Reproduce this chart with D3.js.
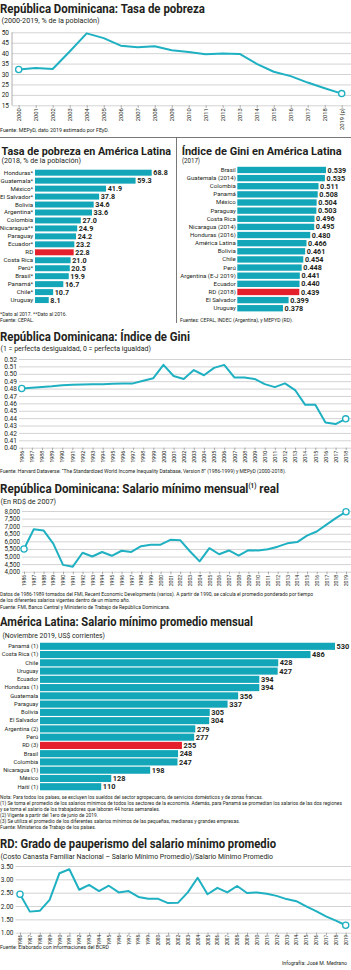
<!DOCTYPE html>
<html><head><meta charset="utf-8">
<script src="https://cdn.jsdelivr.net/npm/d3@7"></script>
<style>
body{margin:0;background:#fff;}
svg{display:block;}
text{font-family:Roboto,"Noto Sans",sans-serif;}
</style></head><body>
<svg id="chart" width="351" height="970"></svg>
<script>
// ---------- DATA ----------
const povertyYears = ["2000","2001","2002","2003","2004","2005","2006","2007","2008","2009","2010","2011","2012","2013","2014","2015","2016","2017","2018","2019 (p)"];
const povertyRates = [32.2,32.9,32.4,40.8,49.5,47.2,43.6,42.8,43.3,41.4,40.6,39.5,39.8,39.6,34.9,31.1,29.0,25.9,23.2,20.6];
const povertyTicks = [15,20,25,30,35,40,45,50];

const laPovertyCountries = ["Honduras*","Guatemala*","México*","El Salvador*","Bolivia","Argentina*","Colombia","Nicaragua**","Paraguay","Ecuador*","RD","Costa Rica","Perú*","Brasil*","Panamá*","Chile*","Uruguay"];
const laPovertyValues = [68.8,59.3,41.9,37.8,34.6,33.6,27.0,24.9,24.2,23.2,22.8,21.0,20.5,19.9,16.7,10.7,8.1];

const laGiniCountries = ["Brasil","Guatemala (2014)","Colombia","Panamá","México","Paraguay","Costa Rica","Nicaragua (2014)","Honduras (2016)","América Latina","Bolivia","Chile","Perú","Argentina (E-J 2019)","Ecuador","RD (2018)","El Salvador","Uruguay"];
const laGiniValues = [0.539,0.535,0.511,0.508,0.504,0.503,0.496,0.495,0.480,0.466,0.461,0.454,0.448,0.441,0.440,0.439,0.399,0.378];

const giniYears = ["1986","1987","1988","1989","1990","1991","1992","1993","1994","1995","1996","1997","1998","1999","2000","2001","2002","2003","2004","2005","2006","2007","2008","2009","2010","2011","2012","2013","2014","2015","2016","2017","2018"];
const giniValues = [0.480,0.481,0.482,0.483,0.4845,0.485,0.4855,0.486,0.486,0.4865,0.4868,0.487,0.4905,0.494,0.512,0.497,0.493,0.505,0.498,0.508,0.512,0.495,0.495,0.493,0.486,0.482,0.487,0.478,0.458,0.458,0.434,0.432,0.439];
const giniTicks = [0.40,0.41,0.42,0.43,0.44,0.45,0.46,0.47,0.48,0.49,0.50,0.51,0.52];

const wageYears = ["1986","1987","1988","1989","1990","1991","1992","1993","1994","1995","1996","1997","1998","1999","2000","2001","2002","2003","2004","2005","2006","2007","2008","2009","2010","2011","2012","2013","2014","2015","2016","2017","2018","2019"];
const wageValues = [5500,6800,6720,5850,4450,4330,5250,5000,5300,5050,5380,5300,5680,5770,5780,6100,6080,5350,4680,5550,5150,5400,5060,5420,5400,5480,5650,5870,5950,6380,6650,7100,7550,7950];
const wageTicks = [4000,4500,5000,5500,6000,6500,7000,7500,8000];

const laWageCountries = ["Panamá (1)","Costa Rica (1)","Chile","Uruguay","Ecuador","Honduras (1)","Guatemala","Paraguay","Bolivia","El Salvador","Argentina (2)","Perú","RD (3)","Brasil","Colombia","Nicaragua (1)","México","Haití (1)"];
const laWageValues = [530,486,428,427,394,394,356,337,305,304,279,277,255,248,247,198,128,110];

const pauperYears = ["1986","1987","1988","1989","1990","1991","1992","1993","1994","1995","1996","1997","1998","1999","2000","2001","2002","2003","2004","2005","2006","2007","2008","2009","2010","2011","2012","2013","2014","2015","2016","2017","2018","2019"];
const pauperValues = [2.44,1.79,1.82,2.23,3.23,3.38,2.61,2.79,2.56,2.76,2.51,2.56,2.34,2.27,2.27,2.11,2.12,2.51,3.06,2.44,2.68,2.51,2.75,2.49,2.51,2.46,2.38,2.26,2.18,1.99,1.81,1.61,1.45,1.28];
const pauperTicks = [1.00,1.50,2.00,2.50,3.00,3.50];

// ---------- DRAWING ----------
const W = 351;
const LINE = "#1fb0c2", BAR = "#12a6b8", RED = "#e4202c", GRID = "#d3d3d3", INK = "#231f20";
const svg = d3.select("#chart");

function label(x, y, s, o = {}) {
  const t = svg.append("text").attr("x", x).attr("y", y).text(s)
    .attr("font-size", o.size || 5)
    .attr("font-weight", o.weight || 400)
    .attr("text-anchor", o.anchor || "start")
    .attr("fill", o.fill || INK);
  if (o.width) t.attr("textLength", o.width).attr("lengthAdjust", "spacingAndGlyphs");
  return t;
}

function lineChart(c) {
  const g = svg.append("g");
  const x = d3.scalePoint().domain(c.cats).range(c.xr);
  const y = d3.scaleLinear().domain(c.dom).range(c.yr);
  const ga = g.append("g").attr("transform", `translate(${c.gx},0)`)
    .call(d3.axisLeft(y).tickValues(c.ticks).tickFormat(c.fmt).tickSize(-(W - c.gx)).tickPadding(c.pad));
  ga.select(".domain").remove();
  ga.selectAll("line").attr("stroke", GRID).attr("stroke-width", 1);
  ga.selectAll("text").attr("font-size", c.yfs || 6.5).attr("fill", INK);
  if (c.vline) g.append("line").attr("x1", c.gx).attr("x2", c.gx).attr("y1", c.yr[1]).attr("y2", c.yr[0]).attr("stroke", "#9a9a9a").attr("stroke-width", 0.8);
  const gb = g.append("g").attr("transform", `translate(0,${c.yr[0]})`)
    .call(d3.axisBottom(x).tickSize(2.5).tickPadding(1));
  gb.select(".domain").remove();
  gb.selectAll("line").attr("stroke", "#8a8a8a").attr("stroke-width", 0.7);
  gb.selectAll("text").attr("transform", "rotate(-90)").attr("text-anchor", "end")
    .attr("x", -(c.xoff || 3)).attr("y", 0).attr("dy", "0.33em").attr("font-size", c.xfs || 5.6).attr("fill", INK);
  const line = d3.line().x((d, i) => x(c.cats[i])).y(d => y(d));
  g.append("path").datum(c.vals).attr("d", line).attr("fill", "none")
    .attr("stroke", LINE).attr("stroke-width", 2).attr("stroke-linejoin", "round");
  const ends = [0, c.vals.length - 1];
  g.selectAll("circle").data(ends).join("circle")
    .attr("cx", i => x(c.cats[i])).attr("cy", i => y(c.vals[i])).attr("r", 3.1)
    .attr("fill", "#fff").attr("stroke", LINE).attr("stroke-width", 1.3);
}

function barChart(c) {
  const g = svg.append("g");
  const y = d3.scaleBand().domain(c.cats).range(c.yr).paddingInner(c.p).paddingOuter(c.p / 2);
  const x = d3.scaleLinear().domain(c.dom).range(c.xr);
  const x0 = x(c.dom[0]);
  g.selectAll("rect").data(c.vals).join("rect")
    .attr("x", x0).attr("y", (d, i) => y(c.cats[i]))
    .attr("width", d => x(d) - x0).attr("height", y.bandwidth())
    .attr("fill", (d, i) => c.cats[i] === c.hl ? RED : BAR);
  const ga = g.append("g").attr("transform", `translate(${x0},0)`)
    .call(d3.axisLeft(y).tickSize(0).tickPadding(c.pad));
  ga.select(".domain").remove();
  ga.selectAll("text").attr("font-size", c.fs).attr("fill", INK);
  g.selectAll("text.v").data(c.vals).join("text").attr("class", "v")
    .attr("x", d => x(d) + 1.6).attr("y", (d, i) => y(c.cats[i]) + y.bandwidth() / 2)
    .attr("dy", "0.36em").attr("font-size", c.vfs || 7.2).attr("font-weight", 700).attr("fill", INK)
    .text(d => c.fmt(d));
}

// Section 1: Tasa de pobreza RD
label(0, 12.7, "República Dominicana: Tasa de pobreza", {size: 12, weight: 700, width: 205});
label(1.5, 22.5, "(2000-2019, % de la población)", {size: 7, width: 98});
lineChart({cats: povertyYears, vals: povertyRates, xr: [18.7, 341.7], yr: [105.3, 32.3], dom: [15, 50],
  ticks: povertyTicks, fmt: d3.format("d"), gx: 12, pad: 3, vline: true, xfs: 5.8});
label(0, 132, "Fuente: MEPyD, dato 2019 estimado por FEyD.", {size: 5.2, width: 109});

// separators
svg.append("line").attr("x1", 0).attr("x2", W).attr("y1", 137.5).attr("y2", 137.5).attr("stroke", "#555").attr("stroke-width", 0.8);
svg.append("line").attr("x1", 176.5).attr("x2", 176.5).attr("y1", 137.5).attr("y2", 323).attr("stroke", "#555").attr("stroke-width", 0.8);

// Section 2a: pobreza AL
label(1.5, 154.5, "Tasa de pobreza en América Latina", {size: 11.5, weight: 700, width: 169.5});
label(1.5, 163, "(2018, % de la población)", {size: 6.6, width: 79.5});
barChart({cats: laPovertyCountries, vals: laPovertyValues, yr: [168.72, 304.04], p: 0.25,
  dom: [0, 68.8], xr: [35, 151.7], hl: "RD", pad: 1.8, fs: 6.2, fmt: d3.format(".1f")});
label(0, 316, "*Dato al 2017. **Dato al 2016.", {size: 5, width: 67});
label(0, 322, "Fuente: CEPAL.", {size: 5, width: 34});

// Section 2b: Gini AL
label(181.7, 155, "Índice de Gini en América Latina", {size: 11.5, weight: 700, width: 160});
label(182, 163, "(2017)", {size: 6.6, width: 18});
barChart({cats: laGiniCountries, vals: laGiniValues, yr: [165.9, 312.3], p: 0.22,
  dom: [0.207, 0.539], xr: [237.3, 326], hl: "RD (2018)", pad: 1.5, fs: 6.1, fmt: d3.format(".3f")});
label(180, 322, "Fuentes: CEPAL, INDEC (Argentina), y MEPYD (RD).", {size: 5, width: 113});

// Section 3: Gini RD
label(0, 340.7, "República Dominicana: Índice de Gini", {size: 12, weight: 700, width: 190});
label(0.5, 350.7, "(1 = perfecta desigualdad, 0 = perfecta igualdad)", {size: 7, width: 150.5});
lineChart({cats: giniYears, vals: giniValues, xr: [21.7, 345.7], yr: [447.7, 359], dom: [0.40, 0.52],
  ticks: giniTicks, fmt: d3.format(".2f"), gx: 19, pad: 2, yfs: 6.6, xfs: 5.4});
label(0, 472.5, "Fuente: Harvard Dataverse: “The Standardized World Income Inequality Database, Version 8” (1986-1999) y MEPyD (2000-2018).", {size: 5, width: 286});

// Section 4: Salario mínimo real (title with superscript as one text)
const t5 = label(0, 492.7, "", {size: 12, weight: 700, width: 279});
t5.append("tspan").text("República Dominicana: Salario mínimo mensual");
t5.append("tspan").attr("font-size", 6.5).attr("dy", -4.5).text("(1)");
t5.append("tspan").attr("dy", 4.5).text(" real");
label(0.5, 504, "(En RD$ de 2007)", {size: 7, width: 55.5});
lineChart({cats: wageYears, vals: wageValues, xr: [24, 346], yr: [571.7, 511], dom: [4000, 8000],
  ticks: wageTicks, fmt: d3.format(",d"), gx: 22, pad: 2, yfs: 6.3, xfs: 5.2});
label(0, 596, "Datos de 1986-1989 tomados del FMI, Recent Economic Developments (varios). A partir de 1990, se calcula el promedio ponderado por tiempo", {size: 5, width: 313});
label(0, 602.3, "de los diferentes salarios vigentes dentro de un mismo año.", {size: 5, width: 130});
label(0, 608.6, "Fuente: FMI, Banco Central y Ministerio de Trabajo de República Dominicana.", {size: 5, width: 170});

// Section 5: Salario mínimo AL
label(0, 626, "América Latina: Salario mínimo promedio mensual", {size: 12, weight: 700, width: 253});
label(2.5, 637.7, "(Noviembre 2019, US$ corrientes)", {size: 7, width: 102.5});
barChart({cats: laWageCountries, vals: laWageValues, yr: [642.17, 790.85], p: 0.14,
  dom: [0, 530], xr: [40, 335], hl: "RD (3)", pad: 1.8, fs: 5.8, vfs: 7.4, fmt: d3.format("d")});
label(0, 799, "Nota: Para todos los países, se excluyen los sueldos del sector agropecuario, de servicios domésticos y de zonas francas.", {size: 4.9, width: 263});
label(0, 805, "(1) Se toma el promedio de los salarios mínimos de todos los sectores de la economía. Además, para Panamá se promedian los salarios de las dos regiones", {size: 4.9, width: 342});
label(0, 810.8, "y se toma el salario de los trabajadores que laboran 44 horas semanales.", {size: 4.9, width: 160});
label(0, 816.8, "(2) Vigente a partir del 1ero de junio de 2019.", {size: 4.9, width: 98});
label(0, 822.8, "(3) Se utiliza el promedio de los diferentes salarios mínimos de las pequeñas, medianas y grandes empresas.", {size: 4.9, width: 240});
label(0, 829.3, "Fuente: Ministerios de Trabajo de los países.", {size: 4.9, width: 96});

// Section 6: Pauperismo
label(0, 847.7, "RD: Grado de pauperismo del salario mínimo promedio", {size: 12, weight: 700, width: 276});
label(0.5, 859, "(Costo Canasta Familiar Nacional – Salario Mínimo Promedio)/Salario Mínimo Promedio", {size: 7, width: 272.5});
lineChart({cats: pauperYears, vals: pauperValues, xr: [20, 345.7], yr: [932.7, 866], dom: [1.0, 3.5],
  ticks: pauperTicks, fmt: d3.format(".2f"), gx: 15.5, pad: 2, yfs: 6.5, xfs: 4.6, xoff: 2.3});
label(0, 948.5, "Fuente: Elaborado con informaciones del BCRD", {size: 5.2, width: 109});
label(347, 964.5, "Infografía: José M. Medrano", {size: 5.2, anchor: "end"});
</script>
</body></html>
